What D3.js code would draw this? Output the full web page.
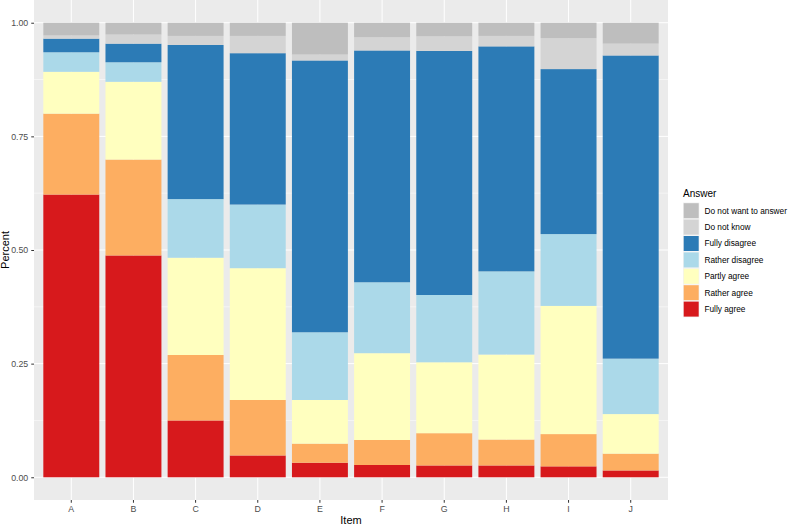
<!DOCTYPE html>
<html>
<head>
<meta charset="utf-8">
<script src="https://cdn.jsdelivr.net/npm/d3@7"></script>
<style>
  body { margin: 0; background: #fff; }
  text { font-family: "Liberation Sans", Arial, sans-serif; }
</style>
</head>
<body>
<div id="chart"></div>
<script>
// categories and answers (stacking order bottom -> top)
const items = ['A', 'B', 'C', 'D', 'E', 'F', 'G', 'H', 'I', 'J'];
const answers = ['Fully agree', 'Rather agree', 'Partly agree', 'Rather disagree', 'Fully disagree', 'Do not know', 'Do not want to answer'];
const answerColors = ['#D7191C', '#FDAE61', '#FFFFBF', '#ABD9E9', '#2C7BB6', '#D4D4D4', '#BEBEBE'];

// share per answer, one value per item
const fullyAgree     = [0.622, 0.488, 0.125, 0.048, 0.032, 0.027, 0.026, 0.026, 0.024, 0.015];
const ratherAgree    = [0.178, 0.211, 0.144, 0.122, 0.042, 0.055, 0.071, 0.057, 0.071, 0.037];
const partlyAgree    = [0.092, 0.171, 0.214, 0.290, 0.096, 0.191, 0.156, 0.187, 0.282, 0.087];
const ratherDisagree = [0.043, 0.043, 0.129, 0.140, 0.149, 0.156, 0.148, 0.183, 0.158, 0.122];
const fullyDisagree  = [0.030, 0.041, 0.339, 0.333, 0.598, 0.510, 0.537, 0.495, 0.363, 0.667];
const doNotKnow      = [0.007, 0.020, 0.020, 0.038, 0.013, 0.029, 0.032, 0.023, 0.068, 0.026];
const noAnswer       = [0.028, 0.026, 0.029, 0.029, 0.070, 0.032, 0.030, 0.029, 0.034, 0.046];

const yTicks = [0, 0.25, 0.5, 0.75, 1];
const yTickLabels = ['0.00', '0.25', '0.50', '0.75', '1.00'];

const series = [fullyAgree, ratherAgree, partlyAgree, ratherDisagree, fullyDisagree, doNotKnow, noAnswer];
const rows = items.map((item, i) => {
  const row = { item };
  answers.forEach((a, j) => { row[a] = series[j][i]; });
  return row;
});

const width = 791, height = 525;
const panel = { left: 34, right: 668, top: 0, bottom: 500 };

const svg = d3.select('#chart').append('svg')
  .attr('width', width)
  .attr('height', height);

// discrete x scale with ggplot-like expansion of 0.6 units each side
const step = (panel.right - panel.left) / (items.length - 1 + 1.2);
const x = d3.scaleBand()
  .domain(items)
  .range([panel.left + 0.1 * step, panel.right - 0.1 * step])
  .paddingInner(0.1)
  .paddingOuter(0.05);

const y = d3.scaleLinear().domain([-0.05, 1.05]).range([panel.bottom, panel.top]);

// panel background
svg.append('rect')
  .attr('x', panel.left)
  .attr('y', panel.top)
  .attr('width', panel.right - panel.left)
  .attr('height', panel.bottom - panel.top)
  .attr('fill', '#EBEBEB');

// gridlines
const grid = svg.append('g').attr('class', 'grid');
[0.125, 0.375, 0.625, 0.875].forEach(v => {
  grid.append('line')
    .attr('x1', panel.left).attr('x2', panel.right)
    .attr('y1', y(v)).attr('y2', y(v))
    .attr('stroke', '#fff').attr('stroke-width', 0.5);
});
yTicks.forEach(v => {
  grid.append('line')
    .attr('x1', panel.left).attr('x2', panel.right)
    .attr('y1', y(v)).attr('y2', y(v))
    .attr('stroke', '#fff').attr('stroke-width', 1);
});
items.forEach(it => {
  grid.append('line')
    .attr('x1', x(it) + x.bandwidth() / 2).attr('x2', x(it) + x.bandwidth() / 2)
    .attr('y1', panel.top).attr('y2', panel.bottom)
    .attr('stroke', '#fff').attr('stroke-width', 1);
});

// stacked bars
const stacked = d3.stack().keys(answers)(rows);
const colors = d3.scaleOrdinal().domain(answers).range(answerColors);

svg.append('g').attr('class', 'bars')
  .selectAll('g')
  .data(stacked)
  .join('g')
  .attr('fill', d => colors(d.key))
  .selectAll('rect')
  .data(d => d)
  .join('rect')
  .attr('x', d => x(d.data.item))
  .attr('width', x.bandwidth())
  .attr('y', d => y(d[1]))
  .attr('height', d => y(d[0]) - y(d[1]));

// axes
const yAxis = svg.append('g')
  .attr('class', 'axis axis-y')
  .attr('transform', `translate(${panel.left}, 0)`)
  .call(d3.axisLeft(y).tickValues(yTicks).tickFormat((d, i) => yTickLabels[i]).tickSize(2.75).tickPadding(3));
yAxis.select('.domain').remove();
yAxis.selectAll('line').attr('stroke', '#333333');
yAxis.selectAll('text').attr('fill', '#4D4D4D').style('font-size', '8.8px');

const xAxis = svg.append('g')
  .attr('class', 'axis axis-x')
  .attr('transform', `translate(0, ${panel.bottom})`)
  .call(d3.axisBottom(x).tickSize(2.75).tickPadding(3.5));
xAxis.select('.domain').remove();
xAxis.selectAll('line').attr('stroke', '#333333');
xAxis.selectAll('text').attr('fill', '#4D4D4D').style('font-size', '8.8px');

// axis titles
svg.append('text')
  .attr('x', (panel.left + panel.right) / 2)
  .attr('y', 524)
  .attr('text-anchor', 'middle')
  .style('font-size', '11px')
  .text('Item');

svg.append('text')
  .attr('transform', `translate(9, ${(panel.top + panel.bottom) / 2}) rotate(-90)`)
  .attr('text-anchor', 'middle')
  .style('font-size', '11px')
  .text('Percent');

// legend (top entry is last stacked layer)
const legend = svg.append('g').attr('transform', 'translate(683, 0)');
legend.append('text')
  .attr('x', 0).attr('y', 196.5)
  .style('font-size', '10px')
  .text('Answer');

const keySize = 16.4;
const legendOrder = answers.slice().reverse();
legendOrder.forEach((a, i) => {
  const top = 202.5 + i * keySize;
  legend.append('rect')
    .attr('x', 0).attr('y', top)
    .attr('width', keySize).attr('height', keySize)
    .attr('fill', '#F2F2F2');
  legend.append('rect')
    .attr('x', 0.7).attr('y', top + 0.7)
    .attr('width', keySize - 1.4).attr('height', keySize - 1.4)
    .attr('fill', colors(a));
  legend.append('text')
    .attr('x', keySize + 5).attr('y', top + keySize / 2)
    .attr('dy', '0.35em')
    .style('font-size', '8.3px')
    .attr('fill', '#000')
    .text(a);
});
</script>
</body>
</html>
